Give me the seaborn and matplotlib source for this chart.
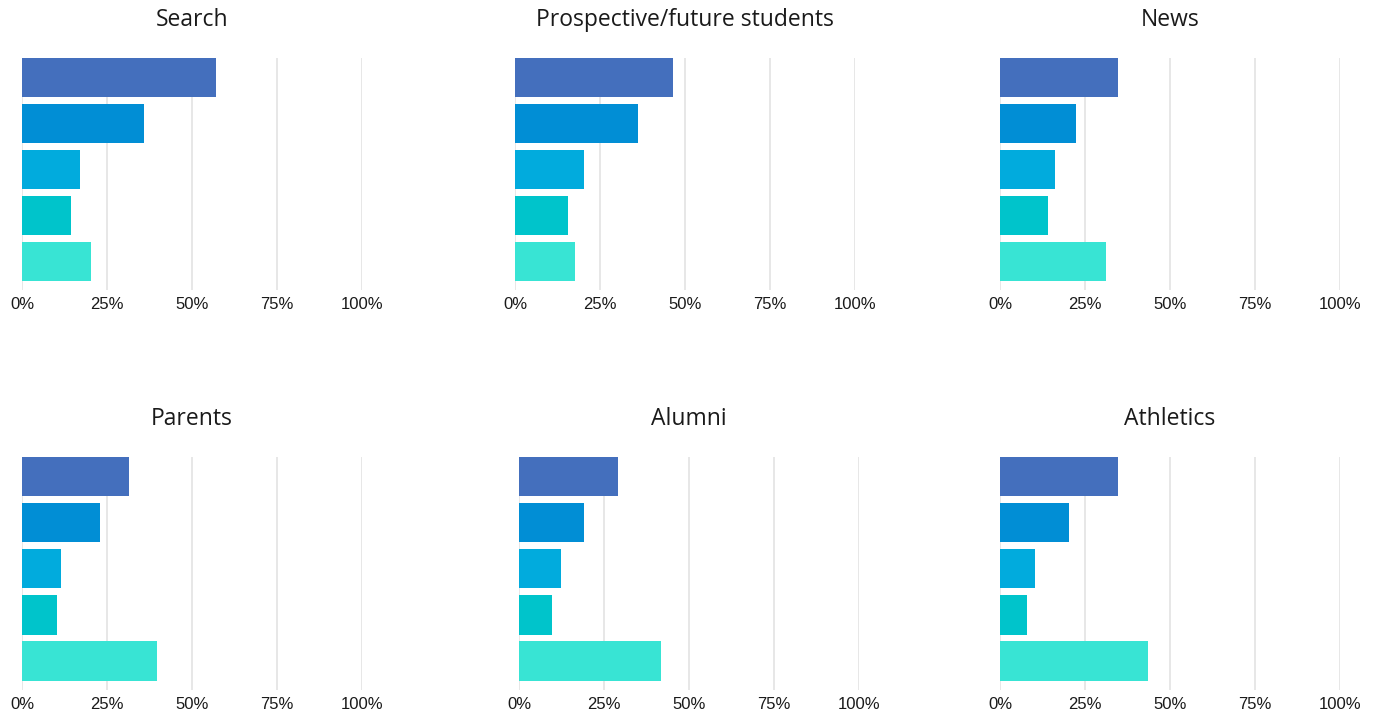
import matplotlib
matplotlib.use("Agg")
import matplotlib.pyplot as plt
import seaborn as sns
import pandas as pd

# ---------------- data ----------------
panel_titles = ["Search", "Prospective/future students", "News",
                "Parents", "Alumni", "Athletics"]
answers = ["Answer 1", "Answer 2", "Answer 3", "Answer 4", "Answer 5"]

search_pct = [57.1, 35.9, 17.1, 14.5, 20.4]
prospective_pct = [46.5, 36.2, 20.3, 15.6, 17.7]
news_pct = [34.7, 22.3, 16.1, 14.0, 31.1]
parents_pct = [31.6, 23.0, 11.6, 10.4, 39.8]
alumni_pct = [29.2, 19.1, 12.4, 9.7, 41.8]
athletics_pct = [34.6, 20.4, 10.4, 8.0, 43.6]

bar_colors = ["#446fbd", "#018ed5", "#01abdd", "#00c4cb", "#38e4d4"]
x_ticks = [0, 25, 50, 75, 100]
x_tick_labels = ["0%", "25%", "50%", "75%", "100%"]

all_values = [search_pct, prospective_pct, news_pct,
              parents_pct, alumni_pct, athletics_pct]

# ---------------- figure ----------------
sns.set_style("white")
plt.rcParams["font.family"] = ["Liberation Sans", "DejaVu Sans"]

W, H = 1377, 715
fig = plt.figure(figsize=(W / 100, H / 100), dpi=100)

# axes boxes in pixels: (left, top, right, bottom)
boxes = [(22, 58, 362, 290), (515, 58, 855, 290), (1000, 58, 1340, 290),
         (22, 457, 362, 690), (519, 457, 859, 690), (1000, 457, 1340, 690)]

for title, values, (l, t, r, b) in zip(panel_titles, all_values, boxes):
    ax = fig.add_axes([l / W, 1 - b / H, (r - l) / W, (b - t) / H])
    df = pd.DataFrame({"answer": answers, "pct": values})
    sns.barplot(data=df, x="pct", y="answer", hue="answer", palette=bar_colors,
                orient="h", width=0.85, saturation=1, legend=False,
                linewidth=0, ax=ax)
    ax.set_xlim(0, 100)
    ax.set_ylim(4.63, -0.43)
    ax.set_xticks(x_ticks)
    ax.set_xticklabels(x_tick_labels, fontsize=12, color="#1a1a1a")
    ax.tick_params(axis="x", length=0, pad=5)
    ax.set_yticks([])
    ax.set_xlabel("")
    ax.set_ylabel("")
    ax.grid(axis="x", color="#e0e0e0", linewidth=1.1)
    ax.set_axisbelow(True)
    for s in ax.spines.values():
        s.set_visible(False)
    ax.set_title(title, fontsize=16.5, family=["Open Sans", "DejaVu Sans"],
                 color="#1a1a1a", pad=23)

fig.savefig("out.png", dpi=100)
